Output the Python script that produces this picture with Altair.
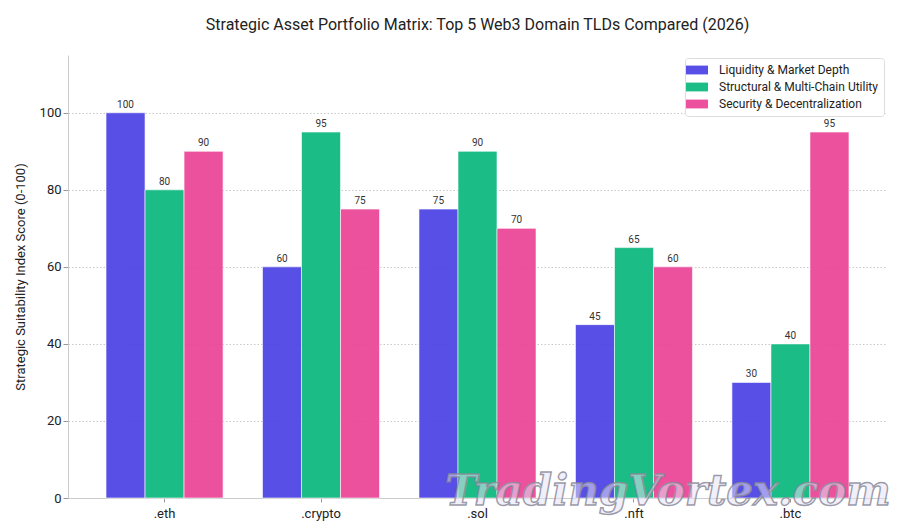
import altair as alt
import pandas as pd

# Domain TLDs and their scores per evaluation dimension
tlds = [".eth", ".crypto", ".sol", ".nft", ".btc"]
series = [
    "Liquidity & Market Depth",
    "Structural & Multi-Chain Utility",
    "Security & Decentralization",
]
liquidity = [100, 60, 75, 45, 30]
structural = [80, 95, 90, 65, 40]
security = [90, 75, 70, 60, 95]
colors = ["#4F46E5", "#10B981", "#EC4899"]

rows = []
for name, vals in zip(series, [liquidity, structural, security]):
    for tld, v in zip(tlds, vals):
        rows.append({"TLD": tld, "Metric": name, "Score": v})
df = pd.DataFrame(rows)

FONT = "Roboto"

x_enc = alt.X(
    "TLD:N",
    sort=tlds,
    title=None,
    scale=alt.Scale(paddingInner=0.252, paddingOuter=0.243),
    axis=alt.Axis(
        labelAngle=0, labelFontSize=13, labelColor="#222222", labelPadding=5,
        tickSize=4, tickColor="#999999", domainColor="#cccccc", grid=False,
    ),
)
xoff = alt.XOffset("Metric:N", sort=series, scale=alt.Scale(paddingInner=0, paddingOuter=0))
y_enc = alt.Y(
    "Score:Q",
    title="Strategic Suitability Index Score (0-100)",
    scale=alt.Scale(domain=[0, 115], nice=False, zero=True),
    axis=alt.Axis(
        values=[0, 20, 40, 60, 80, 100], labelFontSize=13, labelColor="#222222",
        titleFontSize=13, titleFontWeight="normal", titleColor="#222222",
        titlePadding=12, tickSize=5, tickColor="#999999", domainColor="#cccccc",
        grid=True, gridDash=[1.5, 2], gridColor="#bbbbbb", gridWidth=0.8,
    ),
)

# Wide rectangular legend swatch (path drawn wider than its nominal size)
swatch = "M-2,-0.8H2V0.8H-2Z"

bars = alt.Chart(df).mark_bar(opacity=0.95, stroke="white", strokeWidth=0.6).encode(
    x=x_enc,
    xOffset=xoff,
    y=y_enc,
    color=alt.Color(
        "Metric:N",
        sort=series,
        scale=alt.Scale(domain=series, range=colors),
        legend=alt.Legend(
            title=None, orient="top-right", offset=3,
            symbolType=swatch, symbolSize=121, symbolStrokeWidth=0,
            symbolOpacity=0.95,
            labelFontSize=12, labelColor="#222222",
            fillColor="white", strokeColor="#dddddd", cornerRadius=3,
            padding=6, rowPadding=5, labelOffset=16,
        ),
    ),
)

labels = alt.Chart(df).mark_text(
    dy=-8, fontSize=10, color="#333333", font=FONT
).encode(
    x=x_enc,
    xOffset=xoff,
    y=y_enc,
    text="Score:Q",
)

watermark = alt.Chart(pd.DataFrame({"t": ["TradingVortex.com"]})).mark_text(
    font="DejaVu Serif", fontStyle="italic", fontWeight="bold", fontSize=42,
    fill="#e6e2f5", fillOpacity=0.55, stroke="#8a8a99", strokeWidth=1.4,
    strokeOpacity=0.85, align="center", baseline="alphabetic",
).encode(x=alt.value(600), y=alt.value(450), text="t:N")

chart = (
    alt.layer(bars, labels, watermark)
    .properties(
        width=819,
        height=443,
        title=alt.TitleParams(
            "Strategic Asset Portfolio Matrix: Top 5 Web3 Domain TLDs Compared (2026)",
            fontSize=16, fontWeight="normal", color="#222222", font=FONT,
            anchor="middle", offset=22,
        ),
        autosize=alt.AutoSizeParams(type="none"),
        padding={"left": 68, "top": 55, "right": 13, "bottom": 34},
    )
    .configure(font=FONT)
    .configure_view(stroke=None, strokeWidth=0)
)

chart.save("out.html", embed_options={"renderer": "svg", "actions": False})
